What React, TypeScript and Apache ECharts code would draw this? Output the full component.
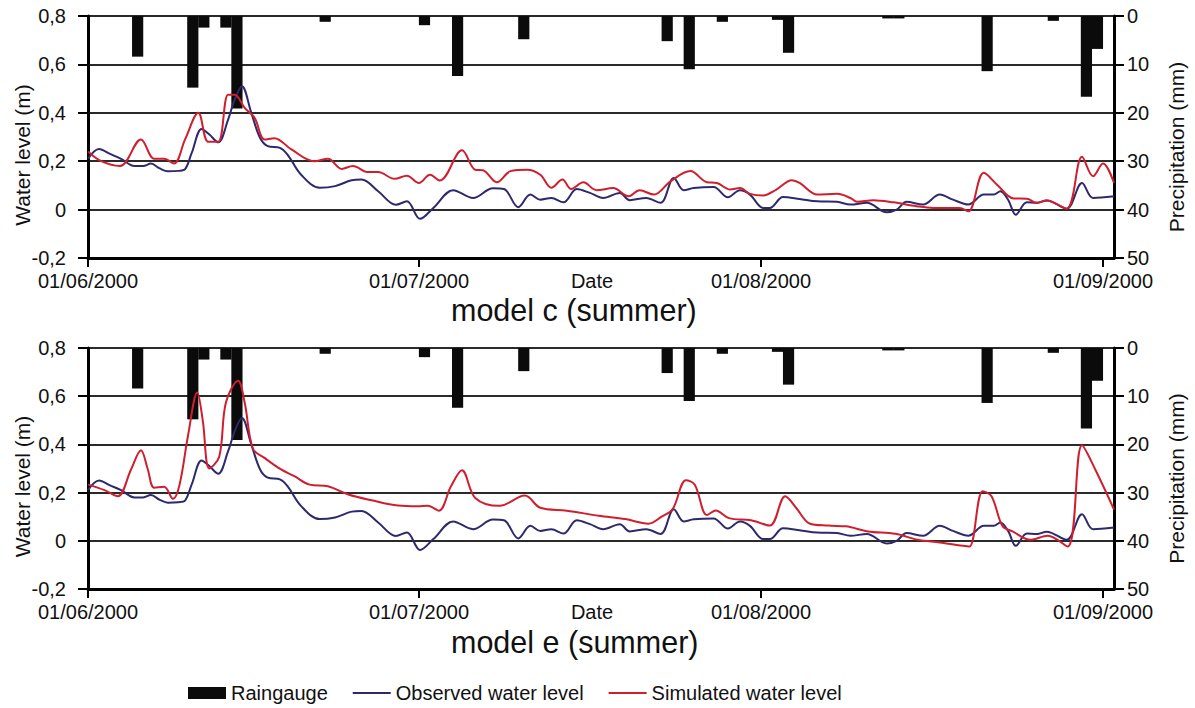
import React, { useEffect, useRef } from 'react';
import * as echarts from 'echarts';

// Day offsets counted from 1 June 2000; date ticks and their labels
const tickDays = [0, 30, 61, 92];
const tickLabels = ['01/06/2000', '01/07/2000', '01/08/2000', '01/09/2000'];

// Daily rain gauge totals (mm), one bar per day
const rainDays = [4, 9, 10, 12, 13, 21, 30, 33, 39, 52, 54, 57, 62, 63, 72, 73, 81, 87, 90, 91];
const rainMm = [8.4, 14.8, 2.4, 2.4, 19.1, 1.2, 1.9, 12.4, 4.8, 5.2, 11.0, 1.2, 0.8, 7.6, 0.5, 0.5, 11.4, 1.0, 16.7, 6.8];

// Observed water level (m): [day, level]
const observedLevel: [number, number][] = [
  [0, 0.21], [1.0, 0.25], [2.0, 0.23], [3.0, 0.21], [4.2, 0.18], [5.0, 0.18], [5.7, 0.19], [6.5, 0.17],
  [7.25, 0.158], [8.2, 0.16], [8.8, 0.167], [9.4, 0.234], [10.3, 0.333], [11.0, 0.31], [11.8, 0.278],
  [12.7, 0.372], [13.3, 0.455], [13.95, 0.51], [14.8, 0.4], [15.6, 0.296], [16.3, 0.262], [17.4, 0.255],
  [18.1, 0.226], [19.3, 0.145], [21.0, 0.09], [22.4, 0.097], [23.9, 0.121], [24.8, 0.124], [26.3, 0.076],
  [27.9, 0.02], [28.9, 0.034], [30.1, -0.038], [31.3, 0.007], [33.1, 0.08], [34.9, 0.048], [36.7, 0.088],
  [37.7, 0.085], [39.0, 0.01], [40.1, 0.062], [41.0, 0.041], [42.0, 0.048], [43.1, 0.03], [44.3, 0.085],
  [45.5, 0.069], [46.7, 0.048], [48.2, 0.069], [49.1, 0.039], [50.6, 0.048], [51.9, 0.028], [53.1, 0.131],
  [54.0, 0.08], [54.9, 0.089], [56.7, 0.093], [58.0, 0.051], [59.1, 0.08], [60.0, 0.062], [61.2, 0.007],
  [61.8, 0.007], [63.0, 0.052], [64.5, 0.044], [66.1, 0.034], [67.9, 0.032], [69.1, 0.021], [70.6, 0.028],
  [72.4, -0.011], [73.3, 0.0], [74.2, 0.032], [75.7, 0.021], [77.2, 0.062], [78.4, 0.041], [79.8, 0.021],
  [81.2, 0.062], [82.1, 0.062], [82.7, 0.076], [83.4, 0.041], [84.1, -0.021], [85.1, 0.03], [86.0, 0.028],
  [86.9, 0.038], [88.7, 0.004], [90.1, 0.11], [91.1, 0.048], [93.0, 0.055],
];

// Simulated water level, model c (m)
const simulatedC: [number, number][] = [
  [0, 0.24], [1.2, 0.2], [2.9, 0.18], [4.8, 0.29], [6.0, 0.21], [6.9, 0.21], [7.8, 0.19], [8.8, 0.29],
  [10.0, 0.4], [10.9, 0.28], [11.8, 0.28], [12.7, 0.475], [13.3, 0.475], [14.2, 0.42], [15.1, 0.379],
  [16.0, 0.29], [16.9, 0.295], [18.4, 0.25], [20.5, 0.2], [21.75, 0.21], [23.0, 0.168], [24.0, 0.18],
  [25.4, 0.155], [26.3, 0.155], [27.8, 0.127], [28.9, 0.14], [30.0, 0.11], [31.0, 0.144], [31.9, 0.12],
  [33.9, 0.245], [35.1, 0.165], [35.8, 0.163], [37.05, 0.113], [38.3, 0.159], [39.8, 0.165], [41.0, 0.144],
  [42.0, 0.09], [43.0, 0.124], [43.8, 0.085], [44.9, 0.113], [46.1, 0.08], [47.6, 0.089], [49.0, 0.055],
  [50.0, 0.08], [51.3, 0.062], [52.8, 0.117], [54.6, 0.159], [56.1, 0.113], [57.0, 0.11], [58.2, 0.083],
  [59.1, 0.089], [60.0, 0.065], [61.2, 0.058], [62.4, 0.083], [63.8, 0.121], [64.5, 0.11], [66.1, 0.062],
  [67.9, 0.065], [69.1, 0.048], [69.7, 0.032], [71.2, 0.039], [73.0, 0.03], [75.1, 0.014], [76.6, 0.007],
  [79.0, 0.007], [79.8, -0.007], [81.2, 0.152], [82.4, 0.103], [83.9, 0.046], [85.1, 0.045], [86.0, 0.028],
  [86.9, 0.038], [88.7, 0.004], [90.1, 0.218], [91.1, 0.138], [92.0, 0.19], [93.0, 0.11],
];

// Simulated water level, model e (m)
const simulatedE: [number, number][] = [
  [0, 0.233], [1.5, 0.21], [2.7, 0.185], [3.9, 0.296], [4.8, 0.376], [5.4, 0.3], [6.0, 0.22], [6.9, 0.224],
  [7.7, 0.174], [8.3, 0.233], [9.06, 0.435], [9.9, 0.615], [10.4, 0.5], [11.0, 0.3], [11.9, 0.35],
  [12.5, 0.574], [13.6, 0.664], [14.2, 0.574], [14.95, 0.382], [16.0, 0.344], [17.5, 0.296], [18.7, 0.268],
  [20.1, 0.233], [21.75, 0.226], [23.6, 0.192], [25.7, 0.168], [28.1, 0.146], [29.9, 0.143], [30.8, 0.145],
  [31.8, 0.125], [32.9, 0.226], [33.9, 0.293], [35.1, 0.178], [37.3, 0.145], [39.6, 0.1875], [41.0, 0.137],
  [43.4, 0.125], [46.3, 0.104], [48.7, 0.09], [50.8, 0.071], [52.0, 0.1], [53.0, 0.132], [54.2, 0.251],
  [55.0, 0.233], [56.1, 0.107], [56.9, 0.126], [58.1, 0.094], [60.1, 0.085], [61.8, 0.063], [63.2, 0.185],
  [64.2, 0.136], [65.4, 0.072], [67.1, 0.063], [68.7, 0.06], [70.7, 0.039], [73.2, 0.029], [75.2, 0.004],
  [77.2, -0.007], [79.3, -0.021], [79.9, -0.024], [81.1, 0.206], [81.9, 0.185], [82.9, 0.06], [83.8, 0.039],
  [85.4, 0.004], [87.0, 0.021], [88.8, -0.024], [90.1, 0.396], [91.3, 0.296], [93.0, 0.13],
];

const panelTitles = ['model c (summer)', 'model e (summer)'];
const simulatedByPanel = [simulatedC, simulatedE];

const FONT = '"Liberation Sans", Arial, Helvetica, sans-serif';
const INK = '#111';
const NAVY = '#2c2a6c';
const RED = '#cf1f2e';
const LAST_DAY = 93;

const levelLabel = (v: number) => {
  const r = Math.round(v * 10) / 10;
  return r === 0 ? '0' : r.toFixed(1).replace('.', ',');
};

const dateLabel = (v: number) => {
  const k = tickDays.indexOf(Math.round(v));
  return k >= 0 ? tickLabels[k] : '';
};

const grids = [
  { left: 88, top: 16, width: 1026, height: 242, outerBoundsMode: 'none' },
  { left: 88, top: 348, width: 1026, height: 241, outerBoundsMode: 'none' },
];

function buildOption() {
  const xAxis: any[] = [];
  const yAxis: any[] = [];
  const series: any[] = [];

  grids.forEach((_, i) => {
    xAxis.push({
      type: 'value',
      gridIndex: i,
      min: 0,
      max: LAST_DAY,
      name: 'Date',
      nameLocation: 'middle',
      nameGap: 13,
      nameMoveOverlap: false,
      nameTextStyle: { fontFamily: FONT, fontSize: 20, color: INK, padding: [0, 18, 0, 0] },
      axisLine: { onZero: false, lineStyle: { color: '#000', width: 3 } },
      axisTick: { show: true, customValues: tickDays, length: 9, lineStyle: { color: '#000', width: 2 } },
      axisLabel: { customValues: tickDays, margin: 13, fontFamily: FONT, fontSize: 20, color: INK, formatter: dateLabel },
      splitLine: { show: false },
    });

    yAxis.push({
      type: 'value',
      gridIndex: i,
      position: 'left',
      min: -0.2,
      max: 0.8,
      interval: 0.2,
      name: 'Water level (m)',
      nameLocation: 'middle',
      nameRotate: 90,
      nameGap: 55,
      nameMoveOverlap: false,
      nameTextStyle: { fontFamily: FONT, fontSize: 21, color: INK, padding: [0, 36, 0, 0] },
      axisLine: { show: true, lineStyle: { color: '#000', width: 3 } },
      axisTick: { show: true, length: 10, lineStyle: { color: '#000', width: 2 } },
      axisLabel: { margin: 22, fontFamily: FONT, fontSize: 20, color: INK, formatter: levelLabel },
      splitLine: { show: true, lineStyle: { color: '#2a2a2a', width: 1.8 } },
    });

    yAxis.push({
      type: 'value',
      gridIndex: i,
      position: 'right',
      min: 0,
      max: 50,
      interval: 10,
      inverse: true,
      name: 'Precipitation (mm)',
      nameLocation: 'middle',
      nameRotate: 90,
      nameGap: 52,
      nameMoveOverlap: false,
      nameTextStyle: { fontFamily: FONT, fontSize: 21, color: INK, padding: [0, 20, 0, 0] },
      axisLine: { show: true, lineStyle: { color: '#000', width: 3 } },
      axisTick: { show: true, length: 10, lineStyle: { color: '#000', width: 2 } },
      axisLabel: { margin: 13, fontFamily: FONT, fontSize: 20, color: INK },
      splitLine: { show: false },
    });

    // each daily total is centred in its day, so a bar for day d covers [d, d + 1]
    series.push({
      type: 'bar',
      name: 'Raingauge',
      xAxisIndex: i,
      yAxisIndex: 2 * i + 1,
      barWidth: 11.2,
      itemStyle: { color: '#0b0b0b' },
      data: rainDays.map((d, k) => [d + 0.5, rainMm[k]]),
      z: 1,
    });

    series.push({
      type: 'line',
      name: 'Observed water level',
      xAxisIndex: i,
      yAxisIndex: 2 * i,
      data: observedLevel,
      smooth: 0.35,
      symbol: 'none',
      lineStyle: { color: NAVY, width: 2 },
      itemStyle: { color: NAVY },
      z: 3,
    });

    series.push({
      type: 'line',
      name: 'Simulated water level',
      xAxisIndex: i,
      yAxisIndex: 2 * i,
      data: simulatedByPanel[i],
      smooth: 0.35,
      symbol: 'none',
      lineStyle: { color: RED, width: 2 },
      itemStyle: { color: RED },
      z: 4,
    });
  });

  return {
    animation: false,
    backgroundColor: '#fff',
    title: panelTitles.map((t, i) => ({
      text: t,
      left: 451,
      top: i === 0 ? 294 : 626,
      padding: 0,
      textStyle: { fontFamily: FONT, fontSize: 30.5, fontWeight: 'normal', color: INK },
    })),
    legend: {
      left: 183,
      top: 678,
      itemWidth: 38,
      itemHeight: 12,
      itemGap: 24,
      selectedMode: false,
      textStyle: { fontFamily: FONT, fontSize: 20, color: INK },
      data: [
        { name: 'Raingauge', icon: 'rect' },
        { name: 'Observed water level', itemStyle: { opacity: 0 } },
        { name: 'Simulated water level', itemStyle: { opacity: 0 } },
      ],
    },
    grid: grids,
    xAxis,
    yAxis,
    series,
  };
}

export default function App() {
  const ref = useRef<HTMLDivElement>(null);

  useEffect(() => {
    if (!ref.current) return;
    const chart = echarts.init(ref.current, undefined, { renderer: 'svg' });
    chart.setOption(buildOption() as any);
    return () => chart.dispose();
  }, []);

  return (
    <div
      ref={ref}
      style={{ position: 'absolute', left: 0, top: 0, width: 1195, height: 708, background: '#fff' }}
    />
  );
}
